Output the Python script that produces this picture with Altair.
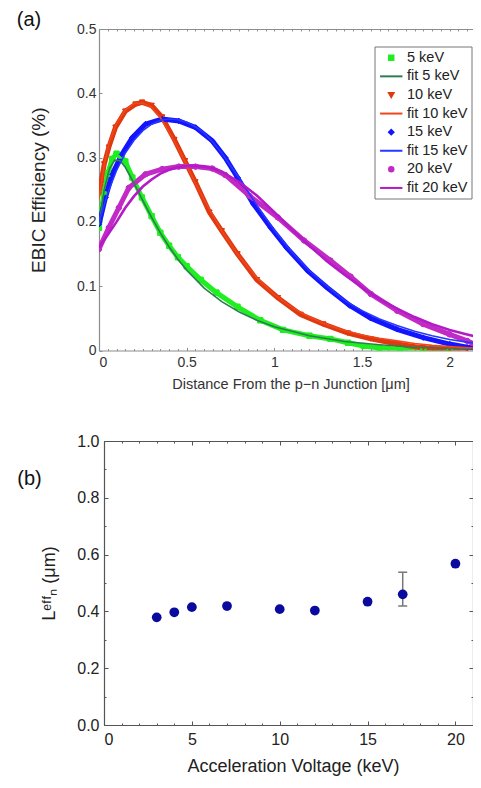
import altair as alt
import pandas as pd

FONT = "Liberation Sans"

# ---------------- panel (a) data ----------------
series_names = ["5 keV", "fit 5 keV", "10 keV", "fit 10 keV",
                "15 keV", "fit 15 keV", "20 keV", "fit 20 keV"]
series_colors = ["#1fef1f", "#2e7d52", "#e0380f", "#f0461c",
                 "#1414ff", "#2438ff", "#c22ac6", "#b41ac6"]
LINE_SYMBOL = "M-5,0L5,0"
series_shapes = ["square", LINE_SYMBOL, "triangle-down", LINE_SYMBOL,
                 "diamond", LINE_SYMBOL, "circle", LINE_SYMBOL]

d5_x = [0.0, 0.027, 0.05, 0.075, 0.1, 0.125, 0.15, 0.19, 0.245, 0.30, 0.35, 0.40, 0.45,
        0.50, 0.58, 0.67, 0.79, 0.92, 1.05, 1.2, 1.32, 1.42, 1.51, 1.6, 1.72, 1.85, 2.0]
d5_y = [0.191, 0.243, 0.275, 0.298, 0.306, 0.303, 0.294, 0.269, 0.238, 0.209, 0.183, 0.163, 0.145,
        0.131, 0.110, 0.090, 0.068, 0.047, 0.032, 0.023, 0.018, 0.012, 0.007, 0.004, 0.002, 0.001, 0.0]

f5_x = [0.0, 0.03, 0.06, 0.09, 0.12, 0.15, 0.2, 0.25, 0.3, 0.35, 0.4, 0.45, 0.5, 0.6, 0.7,
        0.8, 0.9, 1.0, 1.2, 1.4, 1.6, 1.8, 2.0, 2.185]
f5_y = [0.195, 0.25, 0.283, 0.296, 0.295, 0.285, 0.26, 0.233, 0.207, 0.183, 0.161, 0.142, 0.125,
        0.097, 0.076, 0.060, 0.047, 0.037, 0.023, 0.014, 0.009, 0.005, 0.003, 0.002]

d10_x = [0.0, 0.01, 0.03, 0.056, 0.094, 0.15, 0.208, 0.246, 0.30, 0.36, 0.43, 0.49, 0.55, 0.63,
         0.70, 0.79, 0.90, 1.02, 1.15, 1.28, 1.42, 1.55, 1.70, 1.85, 2.0, 2.1]
d10_y = [0.243, 0.259, 0.29, 0.316, 0.347, 0.372, 0.383, 0.386, 0.381, 0.363, 0.328, 0.295, 0.262,
         0.215, 0.186, 0.150, 0.110, 0.082, 0.056, 0.041, 0.027, 0.018, 0.010, 0.004, 0.002, 0.001]

f10_x = [0.0, 0.03, 0.06, 0.1, 0.15, 0.2, 0.25, 0.3, 0.35, 0.4, 0.45, 0.5, 0.55, 0.6, 0.7, 0.8,
         0.9, 1.0, 1.1, 1.2, 1.3, 1.4, 1.5, 1.6, 1.7, 1.8, 1.9, 2.0, 2.185]
f10_y = [0.235, 0.29, 0.325, 0.353, 0.374, 0.384, 0.385, 0.378, 0.362, 0.34, 0.315, 0.288, 0.26,
         0.234, 0.186, 0.146, 0.113, 0.087, 0.067, 0.052, 0.040, 0.031, 0.024, 0.019, 0.015,
         0.011, 0.008, 0.006, 0.003]

d15_x = [0.0, 0.037, 0.075, 0.13, 0.19, 0.265, 0.36, 0.455, 0.55, 0.646, 0.72, 0.79, 0.88, 0.98,
         1.07, 1.19, 1.30, 1.43, 1.55, 1.70, 1.85, 2.0, 2.1, 2.18]
d15_y = [0.196, 0.238, 0.274, 0.305, 0.331, 0.352, 0.360, 0.357, 0.347, 0.326, 0.300, 0.269, 0.228,
         0.191, 0.160, 0.124, 0.098, 0.070, 0.050, 0.033, 0.020, 0.010, 0.005, 0.002]

f15_x = [0.0, 0.05, 0.1, 0.15, 0.2, 0.25, 0.3, 0.35, 0.4, 0.45, 0.5, 0.55, 0.6, 0.65, 0.7, 0.8,
         0.9, 1.0, 1.1, 1.2, 1.3, 1.4, 1.5, 1.6, 1.7, 1.8, 1.9, 2.0, 2.1, 2.185]
f15_y = [0.2, 0.245, 0.28, 0.307, 0.327, 0.342, 0.352, 0.358, 0.36, 0.359, 0.355, 0.348, 0.338,
         0.324, 0.307, 0.268, 0.226, 0.187, 0.153, 0.124, 0.100, 0.078, 0.062, 0.049, 0.039,
         0.030, 0.023, 0.017, 0.013, 0.010]

d20_x = [0.0, 0.056, 0.113, 0.17, 0.265, 0.36, 0.455, 0.55, 0.646, 0.72, 0.86, 1.02, 1.17, 1.32,
         1.435, 1.55, 1.70, 1.85, 2.0, 2.1, 2.185]
d20_y = [0.158, 0.191, 0.222, 0.253, 0.274, 0.282, 0.286, 0.286, 0.283, 0.273, 0.240, 0.207, 0.171,
         0.140, 0.115, 0.088, 0.062, 0.041, 0.025, 0.015, 0.004]

f20_x = [0.0, 0.05, 0.1, 0.15, 0.2, 0.25, 0.3, 0.35, 0.4, 0.45, 0.5, 0.55, 0.6, 0.65, 0.7, 0.8,
         0.9, 1.0, 1.1, 1.2, 1.3, 1.4, 1.5, 1.6, 1.7, 1.8, 1.9, 2.0, 2.1, 2.185]
f20_y = [0.16, 0.18, 0.2, 0.222, 0.24, 0.255, 0.266, 0.275, 0.281, 0.285, 0.287, 0.287, 0.286,
         0.283, 0.278, 0.262, 0.241, 0.215, 0.188, 0.163, 0.139, 0.118, 0.098, 0.080, 0.065,
         0.052, 0.041, 0.032, 0.025, 0.019]

a_x_major = [0, 0.5, 1, 1.5, 2]
a_x_minor = [round(i * 0.05, 2) for i in range(43)]
a_y_ticks = [0, 0.1, 0.2, 0.3, 0.4, 0.5]

# ---------------- panel (b) data ----------------
kev_vals = [3, 4, 5, 7, 10, 12, 15, 17, 20]
leff_vals = [0.379, 0.397, 0.415, 0.419, 0.408, 0.403, 0.434, 0.460, 0.568]
err_kev = [17]
err_lo = [0.419]
err_hi = [0.538]

b_x_major = [0, 5, 10, 15, 20]
b_x_minor = list(range(0, 22))
b_y_major = [0, 0.2, 0.4, 0.6, 0.8, 1.0]
b_y_minor = [round(i * 0.1, 1) for i in range(11)]

# ---------------- frames ----------------
rows = []
for name, xs, ys in [("5 keV", d5_x, d5_y), ("10 keV", d10_x, d10_y),
                     ("15 keV", d15_x, d15_y), ("20 keV", d20_x, d20_y)]:
    for x, y in zip(xs, ys):
        rows.append({"series": name, "x": x, "y": y})
df_data = pd.DataFrame(rows)

rows = []
for name, xs, ys in [("fit 5 keV", f5_x, f5_y), ("fit 10 keV", f10_x, f10_y),
                     ("fit 15 keV", f15_x, f15_y), ("fit 20 keV", f20_x, f20_y)]:
    for x, y in zip(xs, ys):
        rows.append({"series": name, "x": x, "y": y})
df_fit = pd.DataFrame(rows)

df_b = pd.DataFrame({"kev": kev_vals, "leff": leff_vals})
df_err = pd.DataFrame({"kev": err_kev, "lo": err_lo, "hi": err_hi})
df_cap = pd.DataFrame({"kev": err_kev + err_kev, "v": err_lo + err_hi})

# ---------------- panel (a) ----------------
W_A, H_A = 374.5, 321.5
xs_a = alt.Scale(domain=[0, 2.136], nice=False, zero=False)
ys_a = alt.Scale(domain=[0, 0.5], nice=False)
FRAME_A = "#8c8c8c"


def inward(n):
    return alt.ExprRef(expr=str(-n))


ax_a_x_major = alt.Axis(orient="bottom", values=a_x_major, format="~g", labelFontSize=14,
                        labelColor="#333333", labelPadding=8, domainColor=FRAME_A,
                        domainWidth=1.2, tickColor=FRAME_A, tickSize=inward(3),
                        title="Distance From the p\u2212n Junction [\u03bcm]",
                        titleFontSize=14.5, titleColor="#333333", titlePadding=8,
                        titleX=191.5)
ax_a_x_minor = alt.Axis(orient="bottom", values=a_x_minor, labels=False, domain=False,
                        tickColor=FRAME_A, tickSize=inward(2), title=None)
ax_a_x_top = alt.Axis(orient="top", values=a_x_minor, labels=False, domain=True,
                      domainColor=FRAME_A, domainWidth=1.2, tickColor=FRAME_A,
                      tickSize=inward(2), title=None)
ax_a_y = alt.Axis(orient="left", values=a_y_ticks, format="~g", labelFontSize=14,
                  labelColor="#333333", labelPadding=6, domainColor=FRAME_A, domainWidth=1.2,
                  tickColor=FRAME_A, tickSize=inward(3), title="EBIC Efficiency (%)",
                  titleFontSize=19, titleColor="#222222", titlePadding=28.5)

legend_a = alt.Legend(
    title=None, orient="none", legendX=275.5, legendY=17.5,
    fillColor="white", strokeColor="#777777", padding=4,
    labelFont=FONT, labelFontSize=14.5, labelColor="#222222",
    rowPadding=3.6, symbolSize=20, symbolStrokeWidth=2, symbolOffset=5.5, labelOffset=8.5,
)

cscale = alt.Scale(domain=series_names, range=series_colors)
color_a = alt.Color("series:N", scale=cscale, legend=legend_a)
stroke_a = alt.Stroke("series:N", scale=cscale, legend=legend_a)
shape_a = alt.Shape("series:N", scale=alt.Scale(domain=series_names, range=series_shapes),
                    legend=legend_a)

data_points = alt.Chart(df_data).mark_point(filled=True, opacity=1, strokeWidth=1, size=26,
                                            clip=True).encode(
    x=alt.X("x:Q", scale=xs_a, axis=ax_a_x_minor),
    y=alt.Y("y:Q", scale=ys_a, axis=None),
    color=color_a,
    stroke=stroke_a,
    shape=shape_a,
)
data_lines = alt.Chart(df_data).mark_line(strokeWidth=5, opacity=1, clip=True).encode(
    x=alt.X("x:Q", scale=xs_a, axis=ax_a_x_major),
    y=alt.Y("y:Q", scale=ys_a, axis=ax_a_y),
    color=color_a,
)
data_points_top = alt.Chart(df_data).mark_point(filled=True, opacity=1, strokeWidth=1, size=26,
                                                clip=True).encode(
    x=alt.X("x:Q", scale=xs_a, axis=None),
    y=alt.Y("y:Q", scale=ys_a, axis=None),
    color=color_a,
    stroke=stroke_a,
    shape=shape_a,
)
fit_lines = alt.Chart(df_fit).mark_line(opacity=1, clip=True).encode(
    x=alt.X("x:Q", scale=xs_a, axis=ax_a_x_top),
    y=alt.Y("y:Q", scale=ys_a, axis=None),
    color=color_a,
    strokeWidth=alt.condition(alt.datum.series == "fit 20 keV", alt.value(2.6), alt.value(1.6)),
)
label_a = alt.Chart(pd.DataFrame({"t": ["(a)"]})).mark_text(
    font=FONT, fontSize=20, color="#111111", align="center", baseline="middle"
).encode(text="t:N", x=alt.value(-70), y=alt.value(-9.5))

panel_a = alt.layer(data_points, data_lines, data_points_top, fit_lines, label_a).resolve_axis(
    x="independent", y="independent").properties(width=W_A, height=H_A)

# ---------------- panel (b) ----------------
W_B, H_B = 374, 284
LEFT_SHIFT = 5
xs_b = alt.Scale(domain=[0, 21], range=[LEFT_SHIFT, W_B], nice=False, zero=False)
ys_b = alt.Scale(domain=[0, 1], nice=False)
FRAME_B = "#555555"
DOT = "#0a0a9e"

ax_b_x = alt.Axis(orient="bottom", values=b_x_major, format="d", labelFontSize=16,
                  labelColor="#222222", labelPadding=10, domainColor=FRAME_B, domainWidth=1.2,
                  tickColor=FRAME_B, tickSize=inward(4), title="Acceleration Voltage (keV)",
                  titleFontSize=18, titleColor="#222222", titlePadding=10.5, titleX=194)
ax_b_x_minor = alt.Axis(orient="bottom", values=b_x_minor, labels=False, domain=False,
                        tickColor=FRAME_B, tickSize=inward(2), title=None)
ax_b_x_top = alt.Axis(orient="top", values=b_x_major, labels=False, domain=True,
                      domainColor=FRAME_B, domainWidth=1.2, tickColor=FRAME_B,
                      tickSize=inward(4), title=None)
ax_b_x_top_minor = alt.Axis(orient="top", values=b_x_minor, labels=False, domain=False,
                            tickColor=FRAME_B, tickSize=inward(2), title=None)
ax_b_y = alt.Axis(orient="left", offset=-LEFT_SHIFT, values=b_y_major, format=".1f",
                  labelFontSize=16, labelColor="#222222", labelPadding=9,
                  domainColor=FRAME_B, domainWidth=1.2, tickColor=FRAME_B, tickSize=inward(4),
                  title="L\u1d49\u1da0\u1da0\u2099 (\u03bcm)", titleFontSize=18,
                  titleColor="#222222", titlePadding=18)
ax_b_y_minor = alt.Axis(orient="left", offset=-LEFT_SHIFT, values=b_y_minor, labels=False,
                        domain=False, tickColor=FRAME_B, tickSize=inward(2), title=None)
ax_b_y_right = alt.Axis(orient="right", values=b_y_major, labels=False, domain=True,
                        domainColor=FRAME_B, domainWidth=1.2, tickColor=FRAME_B,
                        tickSize=inward(4), title=None)
ax_b_y_right_minor = alt.Axis(orient="right", values=b_y_minor, labels=False, domain=False,
                              tickColor=FRAME_B, tickSize=inward(2), title=None)

pts_b = alt.Chart(df_b).mark_circle(size=95, color=DOT, opacity=1).encode(
    x=alt.X("kev:Q", scale=xs_b, axis=ax_b_x),
    y=alt.Y("leff:Q", scale=ys_b, axis=ax_b_y),
)
err_rule = alt.Chart(df_err).mark_rule(color="#777777", strokeWidth=1.5).encode(
    x=alt.X("kev:Q", scale=xs_b, axis=ax_b_x_minor),
    y=alt.Y("lo:Q", scale=ys_b, axis=ax_b_y_minor),
    y2="hi:Q",
)
err_caps = alt.Chart(df_cap).mark_tick(color="#777777", orient="horizontal", size=9,
                                       thickness=1.5, opacity=1).encode(
    x=alt.X("kev:Q", scale=xs_b, axis=ax_b_x_top),
    y=alt.Y("v:Q", scale=ys_b, axis=ax_b_y_right),
)
ghost_b = alt.Chart(df_b).mark_circle(size=1, opacity=0).encode(
    x=alt.X("kev:Q", scale=xs_b, axis=ax_b_x_top_minor),
    y=alt.Y("leff:Q", scale=ys_b, axis=ax_b_y_right_minor),
)
label_b = alt.Chart(pd.DataFrame({"t": ["(b)"]})).mark_text(
    font=FONT, fontSize=20, color="#111111", align="center", baseline="middle"
).encode(text="t:N", x=alt.value(-69.5), y=alt.value(38))

panel_b = alt.layer(err_rule, err_caps, ghost_b, pts_b, label_b).resolve_axis(
    x="independent", y="independent").properties(width=W_B, height=H_B)

chart = alt.vconcat(panel_a, panel_b, spacing=42).properties(
    padding={"left": 8, "top": 1, "right": -1, "bottom": 0},
).configure_axis(
    labelFont=FONT, titleFont=FONT, titleFontWeight="normal", grid=False
).configure_view(stroke=None)

chart.save("out.html", embed_options={"renderer": "svg", "actions": False})
